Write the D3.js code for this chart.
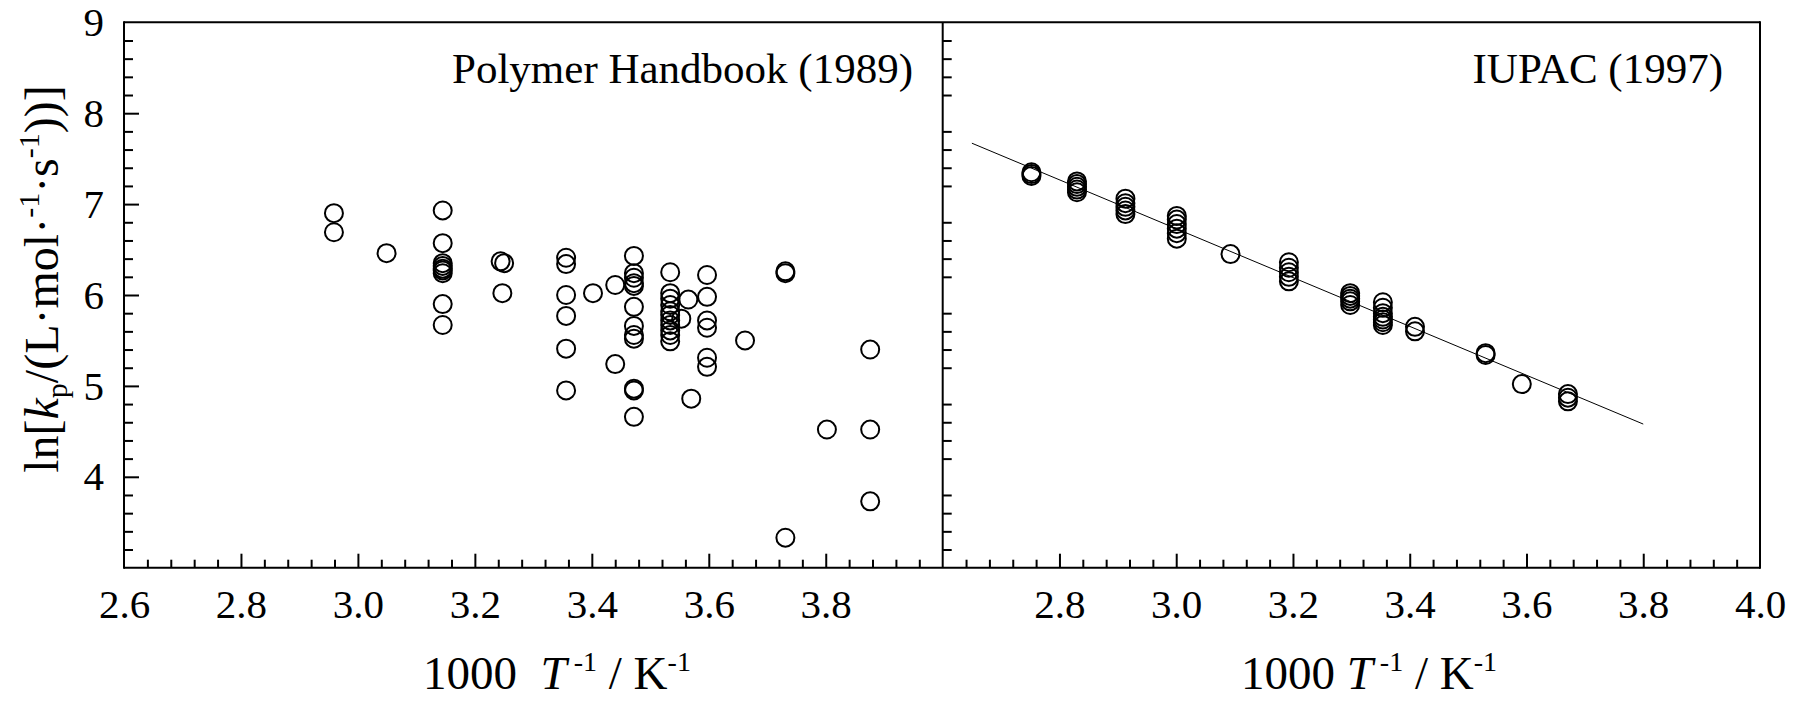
<!DOCTYPE html>
<html>
<head>
<meta charset="utf-8">
<script src="https://cdn.jsdelivr.net/npm/d3@7"></script>
<style>
  body { margin: 0; background: #fff; }
  svg text { font-family: "Liberation Serif", "Times New Roman", serif; fill: #000; }
</style>
</head>
<body>
<svg id="chart" width="1805" height="701"></svg>
<script>
// ln(kp) versus 1000/T for methyl methacrylate propagation rate coefficients.
// Left panel: values collected in the Polymer Handbook (1989).
const handbookX = [
  2.959, 2.959,
  3.049,
  3.145, 3.145, 3.145, 3.145, 3.145, 3.145, 3.145, 3.145, 3.145,
  3.244, 3.250, 3.247,
  3.356, 3.356, 3.356, 3.356, 3.356, 3.356,
  3.402,
  3.440, 3.440,
  3.472, 3.472, 3.472, 3.472, 3.472, 3.472, 3.472, 3.472, 3.472, 3.472, 3.472, 3.472,
  3.534, 3.534, 3.534, 3.534, 3.534, 3.534, 3.534, 3.534, 3.534, 3.534, 3.534,
  3.553, 3.565, 3.570,
  3.597, 3.597, 3.597, 3.597, 3.597, 3.597,
  3.662,
  3.731, 3.731, 3.731,
  3.802,
  3.876, 3.876, 3.876
];
const handbookY = [
  6.90, 6.69,
  6.46,
  6.93, 6.57, 6.35, 6.32, 6.29, 6.27, 6.24, 5.90, 5.67,
  6.37, 6.35, 6.02,
  6.41, 6.34, 6.00, 5.77, 5.41, 4.95,
  6.02,
  6.11, 5.24,
  6.43, 6.24, 6.19, 6.13, 6.10, 5.87, 5.66, 5.56, 5.52, 4.97, 4.95, 4.66,
  6.25, 6.02, 5.96, 5.89, 5.82, 5.78, 5.72, 5.67, 5.61, 5.56, 5.49,
  5.74, 5.95, 4.86,
  6.22, 5.98, 5.72, 5.64, 5.31, 5.21,
  5.50,
  6.26, 6.24, 3.33,
  4.52,
  5.40, 4.52, 3.73
];

// Right panel: IUPAC benchmark (PLP) values and the recommended Arrhenius line.
const iupacX = [
  2.752, 2.752, 2.752,
  2.830, 2.830, 2.830, 2.830, 2.830,
  2.913, 2.913, 2.913, 2.913, 2.913,
  3.001, 3.001, 3.001, 3.001, 3.001, 3.001,
  3.093,
  3.193, 3.193, 3.193, 3.193, 3.193,
  3.298, 3.298, 3.298, 3.298, 3.298,
  3.354, 3.354, 3.354, 3.354, 3.354, 3.354, 3.354,
  3.409, 3.409,
  3.530, 3.530,
  3.592,
  3.671, 3.671, 3.671
];
const iupacY = [
  7.35, 7.33, 7.31,
  7.25, 7.22, 7.19, 7.16, 7.13,
  7.06, 7.01, 6.97, 6.93, 6.89,
  6.87, 6.83, 6.78, 6.73, 6.68, 6.62,
  6.45,
  6.36, 6.30, 6.25, 6.20, 6.15,
  6.02, 5.99, 5.96, 5.93, 5.89,
  5.92, 5.86, 5.80, 5.76, 5.73, 5.70, 5.67,
  5.65, 5.60,
  5.36, 5.34,
  5.02,
  4.91, 4.87, 4.83
];
const fitX = [2.65, 3.80];
const fitY = [7.67, 4.58];

const yTickLabels = [4, 5, 6, 7, 8, 9];
const leftXTickLabels = [2.6, 2.8, 3.0, 3.2, 3.4, 3.6, 3.8];
const rightXTickLabels = [2.8, 3.0, 3.2, 3.4, 3.6, 3.8, 4.0];
const panelTitles = ["Polymer Handbook (1989)", "IUPAC (1997)"];

// ---- layout ----
const svg = d3.select("#chart");
const plotTop = 22.3, plotBottom = 567.7;
const leftX0 = 124, midX = 942.7, rightX1 = 1760;

const y = d3.scaleLinear().domain([3, 9]).range([plotBottom, plotTop]);
const xL = d3.scaleLinear().domain([2.6, 4.0]).range([leftX0, midX]);
const xR = d3.scaleLinear().domain([2.6, 4.0]).range([midX, rightX1]);

const round2 = v => Math.round(v * 100) / 100;
const xMajor = d3.range(0, 8).map(i => round2(2.6 + i * 0.2));
const xMinor = d3.range(0, 36).map(i => round2(2.6 + i * 0.04)).filter(v => !xMajor.includes(v));
const yMajor = d3.range(3, 10);
const yMinor = d3.range(0, 31).map(i => round2(3 + i * 0.2)).filter(v => !yMajor.includes(v));

const tickFont = 41;
const serif = '"Liberation Serif", "Times New Roman", serif';

function styleAxis(g) {
  g.select(".domain").remove();
  g.selectAll(".tick line").attr("stroke", "#000").attr("stroke-width", 2);
}

// y ticks pointing into each panel
function yTicks(xPos, values, len) {
  svg.append("g")
    .attr("transform", `translate(${xPos},0)`)
    .call(d3.axisRight(y).tickValues(values).tickSize(len).tickFormat(""))
    .call(styleAxis);
}
yTicks(leftX0, yMinor.filter(v => v > 3 && v < 9), 9);
yTicks(leftX0, yMajor.filter(v => v > 3 && v < 9), 15);
yTicks(midX, yMinor.filter(v => v > 3 && v < 9), 9);

// y tick labels on the left panel
svg.append("g")
  .attr("transform", `translate(${leftX0},0)`)
  .attr("font-family", serif)
  .call(d3.axisLeft(y).tickValues(yTickLabels).tickSize(0).tickPadding(20).tickFormat(d3.format("d")))
  .call(g => g.select(".domain").remove())
  .selectAll("text")
  .attr("font-size", tickFont);

// x ticks pointing up, and labels, for each panel
function xAxis(scale, labels) {
  const [d0, d1] = scale.domain();
  const inside = v => v > d0 + 1e-9 && v < d1 - 1e-9;
  svg.append("g")
    .attr("transform", `translate(0,${plotBottom})`)
    .call(d3.axisTop(scale).tickValues(xMinor.filter(inside)).tickSize(8).tickFormat(""))
    .call(styleAxis);
  svg.append("g")
    .attr("transform", `translate(0,${plotBottom})`)
    .call(d3.axisTop(scale).tickValues(xMajor.filter(inside)).tickSize(14).tickFormat(""))
    .call(styleAxis);
  const lab = svg.append("g")
    .attr("transform", `translate(0,${plotBottom})`)
    .call(d3.axisBottom(scale).tickValues(labels).tickSize(0).tickFormat(d3.format(".1f")))
    .attr("font-family", serif);
  lab.select(".domain").remove();
  lab.selectAll("text")
    .attr("font-size", tickFont)
    .attr("dy", null)
    .attr("y", 50);
}
xAxis(xL, leftXTickLabels);
xAxis(xR, rightXTickLabels);

// frame
const frame = svg.append("g").attr("stroke", "#000").attr("stroke-width", 2).attr("fill", "none");
frame.append("line").attr("x1", leftX0).attr("x2", leftX0).attr("y1", plotTop - 1).attr("y2", plotBottom + 1);
frame.append("line").attr("x1", midX).attr("x2", midX).attr("y1", plotTop).attr("y2", plotBottom);
frame.append("line").attr("x1", rightX1).attr("x2", rightX1).attr("y1", plotTop - 1).attr("y2", plotBottom + 1);
frame.append("line").attr("x1", leftX0).attr("x2", rightX1).attr("y1", plotTop).attr("y2", plotTop);
frame.append("line").attr("x1", leftX0).attr("x2", rightX1).attr("y1", plotBottom).attr("y2", plotBottom);

// Arrhenius line (right panel)
svg.append("path")
  .datum(d3.zip(fitX, fitY))
  .attr("fill", "none")
  .attr("stroke", "#000")
  .attr("stroke-width", 1)
  .attr("d", d3.line().x(d => xR(d[0])).y(d => y(d[1])));

// open circle markers
function markers(scale, xs, ys) {
  svg.append("g")
    .selectAll("circle")
    .data(d3.zip(xs, ys))
    .join("circle")
    .attr("cx", d => scale(d[0]))
    .attr("cy", d => y(d[1]))
    .attr("r", 9)
    .attr("fill", "none")
    .attr("stroke", "#000")
    .attr("stroke-width", 2);
}
markers(xL, handbookX, handbookY);
markers(xR, iupacX, iupacY);

// panel captions
svg.append("text").attr("x", 913).attr("y", 83).attr("text-anchor", "end")
  .attr("font-size", 43).text(panelTitles[0]);
svg.append("text").attr("x", 1723).attr("y", 83).attr("text-anchor", "end")
  .attr("font-size", 43).text(panelTitles[1]);

// axis titles
function xTitle(cx, gap) {
  const t = svg.append("text").attr("x", cx).attr("y", 689)
    .attr("text-anchor", "middle").attr("font-size", 47)
    .attr("xml:space", "preserve");
  t.append("tspan").text("1000" + gap);
  t.append("tspan").attr("font-style", "italic").text("T");
  t.append("tspan").attr("font-size", 28).attr("dy", -18).text(" -1");
  t.append("tspan").attr("dy", 18).text(" / K");
  t.append("tspan").attr("font-size", 28).attr("dy", -18).text("-1");
}
xTitle(557, "\u00a0\u00a0");
xTitle(1369, "\u00a0");

const yt = svg.append("text")
  .attr("transform", "translate(58,279) rotate(-90)")
  .attr("text-anchor", "middle")
  .attr("font-size", 48);
yt.append("tspan").text("ln[");
yt.append("tspan").attr("font-style", "italic").text("k");
yt.append("tspan").attr("font-size", 30).attr("dy", 9).text("p");
yt.append("tspan").attr("dy", -9).text("/(L\u00b7mol\u00b7");
yt.append("tspan").attr("font-size", 30).attr("dy", -19).text("-1");
yt.append("tspan").attr("dy", 19).text("\u00b7s");
yt.append("tspan").attr("font-size", 30).attr("dy", -19).text("-1");
yt.append("tspan").attr("dy", 19).text("))]");
</script>
</body>
</html>
